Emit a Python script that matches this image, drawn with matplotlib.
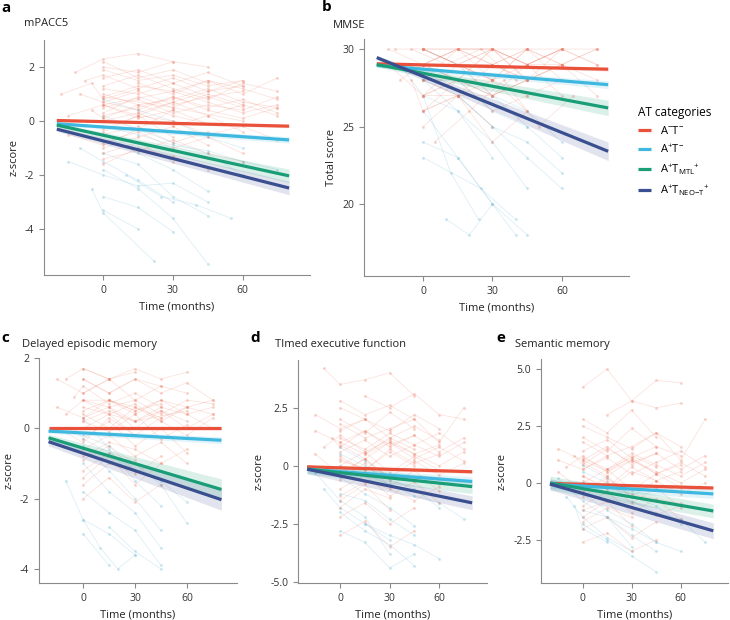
import numpy as np
import matplotlib
matplotlib.use("Agg")
import matplotlib.pyplot as plt

plt.rcParams['font.family'] = ['Open Sans', 'DejaVu Sans']
plt.rcParams['mathtext.fontset'] = 'custom'
plt.rcParams['mathtext.rm'] = 'Open Sans'
plt.rcParams['mathtext.it'] = 'Open Sans:italic'
plt.rcParams['font.size'] = 7.5

# group order: A-T-, A+T-, A+T_MTL+, A+T_NEO-T+
group_labels = [r'A$^{-}$T$^{-}$', r'A$^{+}$T$^{-}$',
                r'A$^{+}$T$_{\mathrm{MTL}}$$^{+}$',
                r'A$^{+}$T$_{\mathrm{NEO{-}T}}$$^{+}$']
group_colors = ['#E9513A', '#3FB8E0', '#1A9E78', '#3A4F8F']

fit_x = [-20, 80]

# fitted line values at start / end of time range
mpacc5_fit_start = [0.02, -0.10, -0.15, -0.30]
mpacc5_fit_end = [-0.19, -0.70, -2.03, -2.48]
mpacc5_ci = [(0.04, 0.06), (0.06, 0.12), (0.08, 0.25), (0.08, 0.25)]

mmse_fit_start = [29.05, 28.95, 29.0, 29.45]
mmse_fit_end = [28.7, 27.7, 26.2, 23.4]
mmse_ci = [(0.08, 0.12), (0.12, 0.25), (0.15, 0.5), (0.15, 0.6)]

dem_fit_start = [0.0, -0.08, -0.27, -0.38]
dem_fit_end = [0.0, -0.34, -1.74, -2.03]
dem_ci = [(0.04, 0.05), (0.06, 0.1), (0.1, 0.3), (0.12, 0.3)]

tef_fit_start = [-0.05, -0.15, -0.15, -0.15]
tef_fit_end = [-0.26, -0.68, -0.90, -1.60]
tef_ci = [(0.08, 0.08), (0.15, 0.2), (0.2, 0.3), (0.2, 0.3)]

sem_fit_start = [-0.02, -0.05, 0.0, -0.05]
sem_fit_end = [-0.22, -0.48, -1.23, -2.10]
sem_ci = [(0.1, 0.08), (0.2, 0.2), (0.3, 0.3), (0.25, 0.35)]

# individual trajectories (time, score), read roughly from the cloud
mpacc5_red = [
    ([-12, 0, 15, 30, 45], [1.8, 2.3, 2.5, 2.2, 2.0]),
    ([0, 15, 30, 45, 60], [1.2, 1.0, 1.4, 0.9, 1.1]),
    ([0, 15, 30, 45, 60, 75], [0.5, 0.8, 0.3, 0.6, 0.4, 0.9]),
    ([-15, 0, 15, 30], [0.2, 0.6, 0.1, 0.4]),
    ([0, 15, 30, 45], [-0.5, -0.2, -0.8, -0.4]),
    ([0, 15, 30, 45, 60, 75], [0.9, 1.3, 1.1, 1.5, 1.0, 1.6]),
    ([0, 15, 30], [-1.2, -0.8, -1.5]),
    ([-8, 0, 15, 30, 45, 60], [1.5, 1.7, 1.2, 1.6, 1.1, 1.3]),
    ([0, 15, 30, 45, 60], [0.0, 0.3, -0.2, 0.2, -0.4]),
    ([0, 15, 30, 45, 60, 75], [0.7, 0.4, 0.9, 0.5, 0.8, 0.3]),
    ([0, 15, 30, 45, 60], [-0.8, -0.4, -1.0, -0.6, -1.2]),
    ([0, 15, 30], [2.0, 1.8, 2.2]),
    ([-5, 0, 15, 30, 45], [0.4, 0.1, 0.6, 0.2, -0.1]),
    ([0, 15, 30, 45, 60, 75], [1.0, 0.6, 0.8, 1.2, 0.7, 0.5]),
    ([0, 15, 30, 45], [-1.6, -1.0, -1.3, -1.8]),
    ([0, 15, 30, 45, 60], [0.3, 0.9, 0.5, 1.0, 0.6]),
    ([15, 30, 45, 60, 75], [1.4, 1.0, 1.5, 1.2, 0.8]),
    ([0, 15, 30, 45, 60, 75], [-0.3, 0.2, 0.0, -0.5, -0.2, -0.7]),
    ([-15, 0, 15], [-0.5, -0.9, -0.3]),
    ([0, 15, 30, 45, 60], [1.6, 1.9, 1.4, 1.8, 1.3]),
    ([0, 30, 45, 60, 75], [0.6, 1.1, 0.7, 0.3, 0.6]),
    ([0, 15, 30, 45], [-1.0, -0.6, -0.2, -0.9]),
    ([0, 15, 30, 45, 60], [1.9, 1.5, 1.7, 1.3, 1.5]),
    ([0, 15, 30, 45], [0.1, -0.3, 0.4, -0.1]),
    ([-10, 0, 15, 30, 45, 60], [1.0, 0.7, 1.1, 0.6, 0.9, 0.5]),
    ([0, 15, 30, 45, 60, 75], [1.3, 1.7, 1.2, 0.8, 1.4, 1.1]),
    ([0, 15, 30], [-0.4, 0.2, -0.6]),
    ([0, 15, 30, 45, 60, 75], [0.2, 0.5, 0.9, 0.4, 0.1, 0.5]),
    ([-18, -5, 0, 15], [1.0, 1.4, 0.8, 1.2]),
    ([0, 15, 30, 45, 60], [-1.4, -1.1, -0.7, -1.2, -1.5]),
    ([15, 30, 45, 60, 75], [0.3, 0.7, 0.2, 0.6, 0.2]),
    ([0, 15, 30, 45], [2.2, 1.6, 1.9, 1.4]),
    ([0, 30, 60], [0.9, 0.5, 0.0]),
    ([0, 15, 30, 45, 60], [0.6, 0.2, 0.7, 1.1, 1.5]),
]
mpacc5_blue = [
    ([0, 15, 30, 45], [-0.5, -1.2, -1.8, -2.6]),
    ([-10, 0, 15, 30], [-1.0, -1.5, -2.2, -3.0]),
    ([0, 15, 30, 45, 60], [0.2, -0.3, -0.8, -1.2, -2.0]),
    ([-5, 0, 22], [-2.5, -3.4, -5.2]),
    ([0, 15, 30, 45], [-1.8, -2.5, -3.6, -5.3]),
    ([0, 15, 30, 45, 60, 75], [-0.2, -0.5, -0.9, -1.1, -1.5, -1.8]),
    ([0, 15, 30], [-2.8, -3.2, -4.1]),
    ([-15, 0, 15, 30, 45], [-1.5, -2.0, -2.4, -2.3, -3.0]),
    ([0, 15, 30, 45, 60], [0.8, 0.4, 0.0, -0.6, -1.0]),
    ([0, 15, 30, 45], [-1.2, -1.6, -2.8, -3.5]),
    ([10, 25, 40, 55], [-2.0, -2.8, -3.1, -3.6]),
    ([0, 15], [-3.3, -4.0]),
]

mmse_red = [
    ([-15, 0, 15, 30, 45, 60], [30, 29, 30, 30, 29, 30]),
    ([0, 15, 30, 45, 60, 75], [29, 30, 28, 29, 30, 29]),
    ([-10, 0, 15, 30, 45], [28, 29, 29, 27, 28]),
    ([0, 15, 30, 45, 60], [30, 30, 29, 30, 28]),
    ([0, 15, 30, 45], [27, 28, 26, 27]),
    ([0, 15, 30, 45, 60, 75], [29, 28, 30, 29, 29, 28]),
    ([-5, 0, 15, 30], [28, 26, 27, 25]),
    ([0, 15, 30, 45, 60], [30, 29, 29, 30, 30]),
    ([0, 15, 30, 45, 60], [26, 28, 27, 29, 27]),
    ([15, 30, 45, 60, 75], [29, 30, 28, 29, 27]),
    ([0, 15, 30], [28, 30, 29]),
    ([0, 15, 30, 45], [27, 29, 28, 26]),
    ([-15, 0, 15], [29, 27, 28]),
    ([0, 30, 45, 60], [30, 28, 30, 29]),
    ([0, 15, 30, 45, 60, 75], [28, 27, 29, 28, 30, 29]),
    ([0, 15, 30, 45], [29, 30, 30, 28]),
    ([5, 20, 35, 50, 65], [24, 26, 28, 25, 27]),
    ([0, 15, 30, 45], [25, 27, 24, 26]),
    ([0, 15, 30, 45, 60], [30, 30, 30, 29, 30]),
    ([0, 15, 30, 45], [29, 29, 28, 30]),
    ([-12, 0, 15, 30, 45, 60, 75], [30, 30, 29, 30, 30, 29, 30]),
    ([0, 15, 30, 45, 60], [28, 28, 27, 28, 29]),
    ([0, 15, 30], [27, 27, 28]),
    ([0, 15, 30, 45, 60, 75], [30, 29, 29, 28, 29, 30]),
    ([0, 15, 30, 45], [26, 27, 27, 28]),
    ([-5, 10, 25, 40], [30, 29, 30, 28]),
    ([0, 15, 30, 45, 60], [29, 28, 28, 27, 28]),
    ([15, 30, 45, 60, 75], [28, 30, 29, 30, 30]),
]
mmse_blue = [
    ([0, 15, 30, 45], [28, 26, 24, 21]),
    ([-10, 0, 15, 30], [29, 27, 26, 23]),
    ([0, 12, 24], [27, 22, 19]),
    ([0, 15, 30, 45, 60], [30, 29, 27, 26, 24]),
    ([10, 20, 30, 40], [19, 18, 20, 18]),
    ([0, 15, 30, 45], [26, 23, 20, 18]),
    ([-5, 0, 15, 30, 45, 60], [29, 28, 28, 26, 25, 23]),
    ([0, 15, 30], [24, 23, 20]),
    ([0, 15, 30, 45, 60], [28, 27, 25, 24, 22]),
    ([15, 30, 45, 60], [27, 25, 23, 21]),
    ([0, 15, 30, 45], [29, 28, 27, 25]),
    ([0, 25, 40], [23, 21, 19]),
]

dem_red = [
    ([-10, 0, 15, 30, 45, 60], [1.4, 1.7, 1.4, 1.7, 1.4, 1.6]),
    ([0, 15, 30, 45, 60, 75], [0.8, 0.6, 0.8, 0.4, 0.8, 0.7]),
    ([0, 15, 30, 45, 60], [0.3, 0.6, 0.0, 0.5, 0.2]),
    ([-15, 0, 15, 30], [0.0, -0.4, 0.3, -0.2]),
    ([0, 15, 30, 45], [1.4, 1.0, 1.4, 1.2]),
    ([0, 15, 30, 45, 60, 75], [0.5, 0.8, 0.6, 0.3, 0.6, 0.4]),
    ([0, 15, 30], [-0.9, -0.5, -1.2]),
    ([0, 15, 30, 45, 60], [-0.3, 0.2, -0.5, 0.0, -0.7]),
    ([0, 15, 30, 45, 60, 75], [0.8, 0.8, 0.5, 0.8, 0.6, 0.8]),
    ([-5, 0, 15, 30, 45], [0.9, 1.2, 0.7, 1.0, 0.6]),
    ([0, 15, 30, 45], [-1.4, -0.8, -1.6, -1.0]),
    ([0, 15, 30, 45, 60], [0.2, -0.1, 0.4, -0.3, 0.1]),
    ([15, 30, 45, 60, 75], [0.6, 0.2, 0.5, 0.0, 0.4]),
    ([0, 15, 30, 45, 60], [-0.6, -0.2, -0.8, -0.4, -1.0]),
    ([0, 15, 30], [1.7, 1.4, 1.6]),
    ([0, 15, 30, 45, 60, 75], [0.4, 0.0, 0.6, 0.2, -0.2, 0.3]),
    ([0, 15, 30, 45], [-2.0, -1.4, -2.1, -1.6]),
    ([-15, 0, 15, 30, 45], [0.6, 0.3, 0.8, 0.5, 0.7]),
    ([0, 15, 30, 45, 60], [1.0, 1.4, 0.8, 1.2, 1.0]),
    ([0, 15, 30, 45], [0.0, 0.4, -0.2, 0.3]),
    ([-10, 0, 15, 30, 45, 60], [0.4, 0.8, 0.4, 0.7, 0.2, 0.6]),
    ([0, 15, 30, 45, 60, 75], [0.2, 0.5, 0.2, 0.6, 0.4, 0.0]),
    ([0, 15, 30], [-1.2, -0.7, -0.9]),
    ([0, 15, 30, 45, 60, 75], [1.4, 1.0, 1.4, 1.0, 1.3, 0.8]),
    ([-15, 0, 15], [1.4, 1.0, 1.4]),
    ([0, 15, 30, 45, 60], [-0.8, -0.4, -0.6, -1.0, -0.6]),
    ([15, 30, 45, 60, 75], [0.8, 0.4, 0.8, 0.4, 0.6]),
    ([0, 15, 30, 45], [-1.6, -1.0, -1.3, -0.8]),
    ([0, 30, 60], [0.6, 0.2, 0.5]),
]
dem_blue = [
    ([0, 15, 30, 45], [-0.5, -1.2, -2.0, -2.9]),
    ([-10, 0, 15, 30], [-1.5, -2.6, -3.0, -3.6]),
    ([0, 15, 30, 45], [0.3, -0.6, -1.5, -2.2]),
    ([0, 10, 20, 30], [-2.6, -3.4, -4.0, -3.6]),
    ([0, 15, 30, 45, 60], [-0.2, -0.5, -1.0, -1.6, -2.7]),
    ([15, 30, 45], [-2.8, -3.5, -4.0]),
    ([0, 15, 30, 45], [-1.0, -1.8, -2.4, -3.4]),
    ([-5, 0, 15, 30, 45, 60], [0.0, -0.3, -0.7, -1.2, -1.5, -2.1]),
    ([0, 15], [-3.0, -3.9]),
    ([0, 15, 30, 45], [-1.8, -2.4, -2.9, -3.9]),
]

tef_red = [
    ([-10, 0, 15, 30, 45], [4.2, 3.5, 3.7, 4.0, 3.0]),
    ([0, 15, 30, 45, 60, 75], [1.0, 1.5, 0.8, 1.3, 0.6, 1.2]),
    ([0, 15, 30, 45, 60], [0.0, 0.6, -0.3, 0.4, -0.2]),
    ([-15, 0, 15, 30], [0.5, -0.4, 0.3, -0.6]),
    ([0, 15, 30, 45], [2.0, 1.4, 2.3, 1.6]),
    ([0, 15, 30, 45, 60, 75], [0.6, 1.1, 0.4, 0.9, 1.4, 0.7]),
    ([0, 15, 30], [-1.5, -0.8, -1.9]),
    ([0, 15, 30, 45, 60], [-0.6, 0.1, -0.9, -0.2, -1.1]),
    ([0, 15, 30, 45, 60, 75], [1.8, 1.2, 1.6, 2.0, 1.0, 2.5]),
    ([-5, 0, 15, 30, 45], [1.2, 0.8, 1.5, 0.9, 1.3]),
    ([0, 15, 30, 45], [-2.2, -1.6, -2.5, -1.8]),
    ([0, 15, 30, 45, 60], [0.3, -0.2, 0.7, 0.1, 0.5]),
    ([15, 30, 45, 60, 75], [3.0, 2.5, 3.1, 2.2, 2.0]),
    ([0, 15, 30, 45, 60], [-1.0, -0.4, -1.3, -0.7, -1.6]),
    ([0, 15, 30, 45, 60, 75], [0.9, 0.3, 1.0, 0.5, 0.0, 0.6]),
    ([-15, 0, 15, 30, 45], [1.5, 1.0, 0.5, 1.2, 0.7]),
    ([0, 15, 30, 45], [-3.0, -2.4, -3.5, -2.8]),
    ([0, 15, 30, 45, 60], [2.5, 2.0, 1.5, 2.2, 1.6]),
    ([0, 15, 30, 45, 60], [1.5, 2.0, 1.2, 1.7, 1.1]),
    ([0, 15, 30, 45], [0.4, -0.2, 0.6, 0.0]),
    ([-10, 0, 15, 30, 45, 60], [0.8, 1.3, 0.6, 1.1, 0.5, 0.9]),
    ([0, 15, 30, 45, 60, 75], [-0.3, 0.3, -0.5, 0.2, -0.4, 0.1]),
    ([0, 15, 30], [-1.8, -1.0, -1.4]),
    ([0, 15, 30, 45, 60, 75], [1.2, 0.7, 1.4, 0.9, 0.4, 1.0]),
    ([-15, 0, 15], [2.2, 1.6, 2.0]),
    ([0, 15, 30, 45, 60], [-1.3, -0.7, -1.0, -1.5, -0.9]),
    ([15, 30, 45, 60, 75], [0.5, 1.0, 0.3, 0.8, 0.2]),
    ([0, 15, 30, 45], [2.8, 2.2, 2.6, 2.0]),
    ([0, 30, 60], [0.2, -0.4, -0.8]),
]
tef_blue = [
    ([0, 15, 30, 45], [-0.5, -1.2, -1.8, -2.6]),
    ([-10, 0, 15, 30], [-1.0, -1.8, -2.5, -3.2]),
    ([0, 15, 30, 45, 60], [0.5, 0.0, -0.6, -1.0, -1.8]),
    ([0, 15, 30, 45], [-2.0, -2.8, -3.4, -4.3]),
    ([0, 15, 30, 45, 60, 75], [0.0, -0.4, -0.8, -1.3, -1.6, -2.3]),
    ([-15, 0, 15, 30], [-0.3, -1.5, -2.2, -3.8]),
    ([0, 15, 30, 45], [-1.2, -1.5, -2.3, -3.0]),
    ([15, 30, 45, 60], [-2.5, -3.0, -3.4, -4.0]),
    ([0, 15, 30], [0.8, 0.2, -0.5]),
    ([0, 15, 30, 45], [-2.8, -3.3, -4.4, -3.8]),
]

sem_red = [
    ([0, 15, 30, 45, 60], [4.2, 5.0, 3.6, 4.5, 4.4]),
    ([0, 15, 30, 45, 60, 75], [1.0, 1.6, 0.8, 1.3, 0.6, 1.2]),
    ([0, 15, 30, 45, 60], [0.0, 0.6, -0.3, 0.4, -0.2]),
    ([-15, 0, 15, 30], [0.5, -0.4, 0.3, -0.6]),
    ([0, 15, 30, 45], [2.0, 1.4, 2.4, 1.6]),
    ([0, 15, 30, 45, 60, 75], [0.6, 1.1, 0.4, 0.9, 1.4, 0.7]),
    ([0, 15, 30], [-1.5, -0.8, -1.9]),
    ([0, 15, 30, 45, 60], [-0.6, 0.1, -0.9, -0.2, -1.1]),
    ([0, 15, 30, 45, 60, 75], [1.8, 1.2, 1.6, 2.2, 1.0, 2.8]),
    ([-5, 0, 15, 30, 45], [1.2, 0.8, 1.5, 0.9, 1.3]),
    ([0, 15, 30, 45], [-2.0, -1.5, -2.4, -1.7]),
    ([0, 15, 30, 45, 60], [0.3, -0.2, 0.7, 0.1, 0.5]),
    ([15, 30, 45, 60], [3.0, 3.6, 3.3, 3.5]),
    ([0, 15, 30, 45, 60], [-1.0, -0.4, -1.3, -0.7, -1.6]),
    ([0, 15, 30, 45, 60, 75], [0.9, 0.3, 1.0, 0.5, 0.0, 0.6]),
    ([-15, 0, 15, 30, 45], [1.5, 1.0, 0.5, 1.2, 0.7]),
    ([0, 15, 30, 45, 60], [2.5, 2.0, 1.5, 2.2, 1.6]),
    ([0, 15, 30, 45], [-2.6, -2.2, -3.0, -2.5]),
    ([0, 15, 30, 45, 60], [1.4, 1.9, 1.1, 1.6, 1.2]),
    ([0, 15, 30, 45], [0.3, -0.3, 0.5, 0.1]),
    ([-10, 0, 15, 30, 45, 60], [0.7, 1.2, 0.5, 1.0, 0.4, 0.8]),
    ([0, 15, 30, 45, 60, 75], [-0.4, 0.2, -0.6, 0.1, -0.5, 0.0]),
    ([0, 15, 30], [-1.7, -1.1, -1.5]),
    ([0, 15, 30, 45, 60, 75], [1.1, 0.6, 1.3, 0.8, 0.3, 0.9]),
    ([-15, 0, 15], [1.0, 0.6, 1.2]),
    ([0, 15, 30, 45, 60], [-1.2, -0.8, -1.1, -1.4, -1.0]),
    ([15, 30, 45, 60, 75], [0.6, 1.1, 0.4, 0.9, 0.3]),
    ([0, 15, 30, 45], [2.8, 2.2, 3.2, 2.0]),
    ([0, 30, 60], [0.1, -0.5, -0.9]),
]
sem_blue = [
    ([0, 15, 30, 45], [-0.5, -1.2, -1.8, -2.6]),
    ([-10, 0, 15, 30], [-0.6, -1.5, -2.4, -3.0]),
    ([0, 15, 30, 45, 60], [0.5, 0.0, -0.6, -1.0, -1.8]),
    ([0, 15, 30, 45], [-1.8, -2.5, -3.2, -3.9]),
    ([0, 15, 30, 45, 60, 75], [0.0, -0.4, -0.8, -1.3, -1.6, -2.6]),
    ([-15, 0, 15, 30], [0.2, -0.8, -1.5, -2.8]),
    ([0, 15, 30, 45], [-1.2, -1.5, -2.3, -3.0]),
    ([15, 30, 45, 60], [-1.5, -2.0, -2.6, -3.0]),
    ([0, 15, 30], [0.8, 0.2, -0.5]),
    ([-5, 0, 15], [-1.0, -2.0, -2.6]),
]

panels = [
    dict(letter='a', title='mPACC5', ylabel='z-score', red=mpacc5_red, blue=mpacc5_blue,
         fs=mpacc5_fit_start, fe=mpacc5_fit_end, ci=mpacc5_ci,
         yticks=[2, 0, -2, -4], ylim=(-5.7, 3.0), ytl=['2', '0', '-2', '-4'],
         pos=[44, 40, 310, 275], letter_xy=(1, 8), title_xy=(24, 24)),
    dict(letter='b', title='MMSE', ylabel='Total score', red=mmse_red, blue=mmse_blue,
         fs=mmse_fit_start, fe=mmse_fit_end, ci=mmse_ci,
         yticks=[30, 25, 20], ylim=(15.35, 30.65), ytl=['30', '25', '20'],
         pos=[364, 39, 629, 276], letter_xy=(322, 7), title_xy=(333, 26)),
    dict(letter='c', title='Delayed episodic memory', ylabel='z-score', red=dem_red, blue=dem_blue,
         fs=dem_fit_start, fe=dem_fit_end, ci=dem_ci,
         yticks=[2, 0, -2, -4], ylim=(-4.4, 2.0), ytl=['2', '0', '-2', '-4'],
         pos=[39, 358, 237, 583], letter_xy=(1, 338), title_xy=(22, 345)),
    dict(letter='d', title='TImed executive function', ylabel='z-score', red=tef_red, blue=tef_blue,
         fs=tef_fit_start, fe=tef_fit_end, ci=tef_ci,
         yticks=[2.5, 0, -2.5, -5.0], ylim=(-5.05, 4.55), ytl=['2.5', '0', '-2.5', '-5.0'],
         pos=[298, 360, 487, 583], letter_xy=(250, 338), title_xy=(275, 345)),
    dict(letter='e', title='Semantic memory', ylabel='z-score', red=sem_red, blue=sem_blue,
         fs=sem_fit_start, fe=sem_fit_end, ci=sem_ci,
         yticks=[5.0, 2.5, 0, -2.5], ylim=(-4.39, 5.44), ytl=['5.0', '2.5', '0', '-2.5'],
         pos=[541, 359, 728, 583], letter_xy=(496, 338), title_xy=(515, 345)),
]

W, H = 730, 620
fig = plt.figure(figsize=(W / 100, H / 100), dpi=100)

for p in panels:
    l, t, r, b = p['pos']
    ax = fig.add_axes([l / W, 1 - b / H, (r - l) / W, (b - t) / H])

    for tt, yy in p['blue']:
        ax.plot(tt, yy, color='#8FCBE0', alpha=0.3, lw=0.6, marker='o', ms=1.3, zorder=1)
    for tt, yy in p['red']:
        ax.plot(tt, yy, color='#F0826E', alpha=0.22, lw=0.6, marker='o', ms=1.3, zorder=2)

    xs = np.linspace(fit_x[0], fit_x[1], 50)
    for i in range(4):
        ys = np.interp(xs, fit_x, [p['fs'][i], p['fe'][i]])
        hw = np.interp(xs, fit_x, list(p['ci'][i]))
        ax.fill_between(xs, ys - hw, ys + hw, color=group_colors[i], alpha=0.15, lw=0, zorder=3)
    for i in range(4):
        ax.plot(fit_x, [p['fs'][i], p['fe'][i]], color=group_colors[i], lw=2.3,
                solid_capstyle='butt', zorder=4, label=group_labels[i])

    ax.set_xlim(-25.5, 89)
    ax.set_ylim(*p['ylim'])
    ax.set_xticks([0, 30, 60])
    ax.set_yticks(p['yticks'])
    ax.set_yticklabels(p['ytl'])
    for s in ['top', 'right']:
        ax.spines[s].set_visible(False)
    for s in ['left', 'bottom']:
        ax.spines[s].set_color('#8a8a8a')
        ax.spines[s].set_linewidth(0.8)
    ax.tick_params(color='#8a8a8a', labelcolor='#333333', length=3.5, width=0.8, labelsize=7.5)
    ax.set_xlabel('Time (months)', fontsize=8, color='#222222', labelpad=4)
    ax.set_ylabel(p['ylabel'], fontsize=8, color='#222222', labelpad=4)

    tx, ty = p['title_xy']
    fig.text(tx / W, 1 - ty / H, p['title'], fontsize=8, color='#222222',
             ha='left', va='center')
    lx, ly = p['letter_xy']
    fig.text(lx / W, 1 - ly / H, p['letter'], fontsize=11, weight='bold',
             ha='left', va='center')
    if p['letter'] == 'b':
        handles, labels = ax.get_legend_handles_labels()

leg = fig.legend(handles, labels, title='AT categories', loc='upper left',
                 bbox_to_anchor=(628 / W, 1 - 96 / H), frameon=False, fontsize=8,
                 title_fontsize=8.5, handlelength=1.2, handletextpad=0.8,
                 labelspacing=0.55, alignment='left')

fig.savefig('out.png', dpi=100)
